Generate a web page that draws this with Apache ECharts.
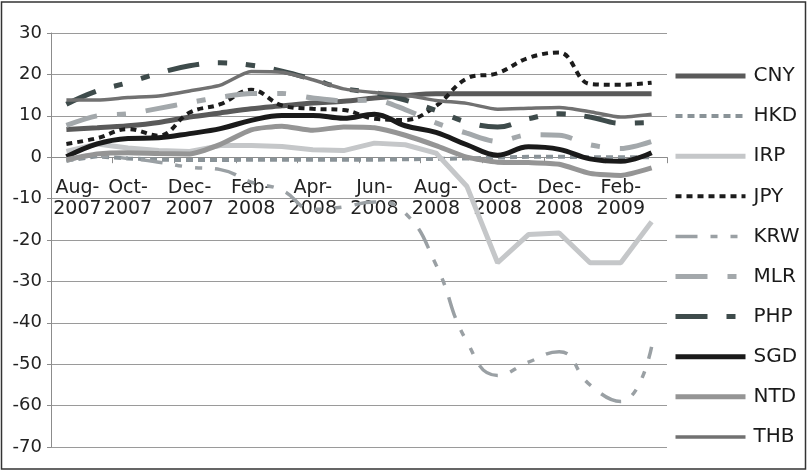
<!DOCTYPE html>
<html>
<head>
<meta charset="utf-8">
<script src="https://cdn.jsdelivr.net/npm/echarts@6/dist/echarts.min.js"></script>
<style>
  html, body { margin: 0; padding: 0; background: #fff; }
  #chart { width: 807px; height: 471px; }
</style>
</head>
<body>
<div id="chart"></div>
<script>
// monthly categories, Aug 2007 .. Mar 2009
var months = ['Aug-2007', 'Sep-2007', 'Oct-2007', 'Nov-2007', 'Dec-2007', 'Jan-2008', 'Feb-2008',
  'Mar-2008', 'Apr-2008', 'May-2008', 'Jun-2008', 'Jul-2008', 'Aug-2008', 'Sep-2008', 'Oct-2008',
  'Nov-2008', 'Dec-2008', 'Jan-2009', 'Feb-2009', 'Mar-2009'];

var cny = [6.7, 7.1, 7.6, 8.4, 9.7, 10.7, 11.7, 12.4, 13.1, 13.5, 14.3, 14.9, 15.3, 15.3, 15.3, 15.3, 15.3, 15.3, 15.3, 15.3];
var hkd = [-0.8, 0.2, -0.3, -0.6, -0.7, -0.7, -0.6, -0.6, -0.6, -0.6, -0.6, -0.5, -0.4, -0.3, -0.1, 0.1, 0.1, 0, 0, 0];
var irp = [1.4, 3.2, 2.2, 1.6, 1.4, 2.8, 2.8, 2.6, 1.8, 1.6, 3.4, 3.0, 1.0, -7.0, -25.5, -18.7, -18.3, -25.5, -25.5, -15.6];
var jpy = [3.2, 4.6, 6.8, 5.2, 10.8, 12.8, 16.3, 12.5, 11.7, 11.4, 9.3, 9.0, 12.4, 19.0, 20.3, 24.0, 25.3, 17.7, 17.5, 18.0];
var krw = [-1.0, 0.3, -0.3, -1.2, -2.4, -3.0, -6.0, -8.0, -12.6, -12.0, -10.8, -13.5, -26.0, -44.5, -52.7, -49.5, -47.0, -55.0, -59.0, -45.8];
var mlr = [7.7, 10.0, 10.5, 11.8, 13.2, 14.5, 15.4, 15.4, 14.3, 13.6, 13.8, 11.5, 8.3, 5.8, 3.8, 5.4, 5.3, 3.0, 2.1, 3.8];
var php = [12.8, 16.0, 18.0, 20.3, 22.1, 22.8, 22.2, 20.8, 18.8, 16.6, 15.6, 13.8, 11.3, 8.5, 7.3, 9.3, 10.5, 9.7, 8.2, 8.4];
var sgd = [0.1, 3.2, 4.5, 4.7, 5.7, 6.9, 8.9, 10.1, 10.1, 9.4, 10.4, 7.6, 6.0, 3.0, 0.5, 2.5, 1.9, -0.4, -1.0, 1.1];
var ntd = [-0.6, 0.8, 1.1, 0.9, 0.8, 3.1, 6.6, 7.5, 6.5, 7.3, 7.1, 5.3, 2.8, 0.0, -1.2, -1.3, -1.7, -3.9, -4.4, -2.6];
var thb = [13.8, 13.8, 14.4, 14.8, 16.0, 17.4, 20.7, 20.5, 18.7, 16.5, 15.6, 15.0, 13.7, 13.0, 11.6, 11.8, 12.0, 11.0, 9.7, 10.4];

var FONT = 'DejaVu Sans';
var Y_MIN = -70, Y_MAX = 30;
var GRID_TOP = 33, GRID_BOTTOM = 24, H = 471;

// pull the category axis up from the bottom edge to the zero line
var plotH = H - GRID_TOP - GRID_BOTTOM;
var zeroOffset = -plotH * (0 - Y_MIN) / (Y_MAX - Y_MIN);

function line(name, data, color, width, dash, smooth) {
  return {
    name: name,
    type: 'line',
    data: data,
    symbol: 'none',
    smooth: smooth,
    animation: false,
    lineStyle: { color: color, width: width, type: dash || 'solid', cap: 'butt' },
    itemStyle: { color: color }
  };
}

var chart = echarts.init(document.getElementById('chart'));
var option = {
  backgroundColor: '#fff',
  animation: false,
  grid: { left: 51, right: 140, top: GRID_TOP, bottom: GRID_BOTTOM },
  xAxis: {
    type: 'category',
    data: months,
    boundaryGap: true,
    offset: zeroOffset,
    axisLine: { onZero: false, lineStyle: { color: '#8c8c8c', width: 1 } },
    axisTick: { show: true, interval: 1, length: 6, lineStyle: { color: '#8c8c8c' } },
    axisLabel: {
      interval: 1,
      margin: 20,
      color: '#222',
      fontFamily: FONT,
      fontSize: 19,
      lineHeight: 21,
      formatter: function (v, i) {
        var t = v.replace('-', '-\n');
        if (i === 0) {
          // first label sits clear of the value axis
          return t.split('\n').map(function (s) { return '{f|' + s + '}'; }).join('\n');
        }
        return t;
      },
      rich: {
        f: { fontFamily: FONT, fontSize: 19, lineHeight: 21, color: '#222', padding: [0, 0, 0, 22] }
      }
    },
    splitLine: { show: false }
  },
  yAxis: {
    type: 'value',
    min: Y_MIN,
    max: Y_MAX,
    interval: 10,
    axisLine: { show: true, lineStyle: { color: '#8c8c8c', width: 1 } },
    axisTick: { show: true, length: 4, lineStyle: { color: '#8c8c8c' } },
    axisLabel: { color: '#222', fontFamily: FONT, fontSize: 18, margin: 9 },
    splitLine: { lineStyle: { color: '#9a9a9a', width: 1 } }
  },
  legend: {
    orient: 'vertical',
    left: 673,
    top: 66,
    padding: 0,
    itemWidth: 70,
    itemHeight: 20,
    itemGap: 20.1,
    itemStyle: { opacity: 0 },
    lineStyle: { width: 'inherit' },
    textStyle: { color: '#1a1a1a', fontFamily: FONT, fontSize: 20, lineHeight: 20, padding: [0, 0, 0, 3] },
    data: ['CNY', 'HKD', 'IRP', 'JPY', 'KRW', 'MLR', 'PHP', 'SGD', 'NTD', 'THB']
  },
  graphic: [{
    type: 'rect',
    shape: { x: 1.5, y: 2, width: 804, height: 467 },
    style: { fill: 'none', stroke: '#333', lineWidth: 1.5 },
    z: 100
  }],
  series: [
    line('CNY', cny, '#5a5a5a', 5, 'solid', 0.3),
    line('HKD', hkd, '#8a9398', 4, [7, 5], false),
    line('IRP', irp, '#c5c7c9', 5, 'solid', false),
    line('JPY', jpy, '#1c1c1c', 4, [6, 5], 0.4),
    line('KRW', krw, '#9aa0a4', 3.5, [22, 13, 7, 13, 7, 13], 0.5),
    line('MLR', mlr, '#a3a8ab', 5, [32, 20, 9, 20], 0.3),
    line('PHP', php, '#3e4b4b', 5, [32, 19, 9, 19, 9, 19], 0.4),
    line('SGD', sgd, '#1a1a1a', 5, 'solid', 0.4),
    line('NTD', ntd, '#959595', 5, 'solid', 0.2),
    line('THB', thb, '#717171', 3.5, 'solid', 0.2)
  ]
};
option && chart.setOption(option);
</script>
</body>
</html>
